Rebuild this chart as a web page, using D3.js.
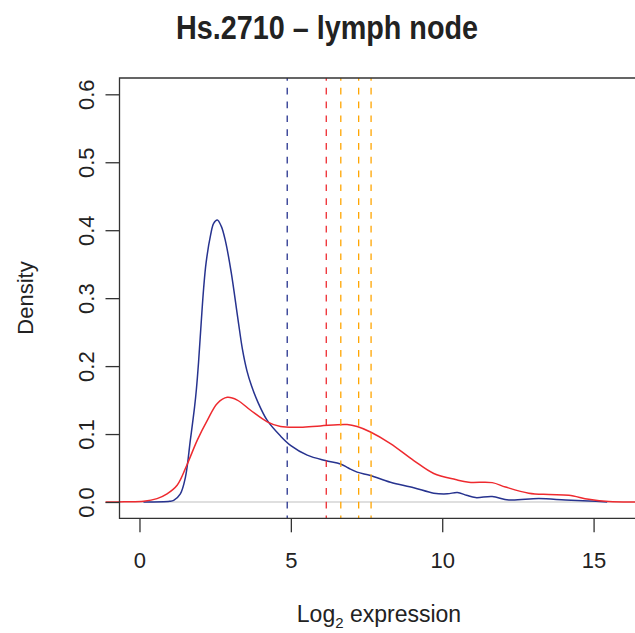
<!DOCTYPE html>
<meta charset="utf-8">
<style>
  body { margin: 0; background: #fff; }
  text { font-family: "Liberation Sans", Arial, Helvetica, sans-serif; fill: #222; }
</style>
<svg width="635" height="633"></svg>
<script src="https://d3js.org/d3.v7.min.js"></script>
<script>

// density estimates: [log2 expression, density]
var tissueDensity = [
  [0.13, 0], [1.0, 0.001], [1.13, 0.0025], [1.35, 0.012], [1.52, 0.037], [1.68, 0.091],
  [1.82, 0.14], [1.88, 0.166], [1.95, 0.205], [2.04, 0.265], [2.12, 0.315], [2.2, 0.352],
  [2.35, 0.393], [2.45, 0.41], [2.57, 0.415], [2.7, 0.406], [2.84, 0.384], [3.03, 0.338],
  [3.25, 0.27], [3.4, 0.225], [3.55, 0.193], [3.7, 0.171], [3.9, 0.148], [4.22, 0.12],
  [4.66, 0.097], [5.0, 0.083], [5.54, 0.069], [6.14, 0.061], [6.64, 0.056], [6.9, 0.05],
  [7.19, 0.044], [7.63, 0.039], [8.29, 0.029], [9.06, 0.021], [9.72, 0.013], [10.17, 0.012],
  [10.5, 0.014], [10.8, 0.01], [11.1, 0.0065], [11.65, 0.008], [12.2, 0.003], [13.19, 0.005],
  [14.07, 0.003], [14.84, 0.0015], [15.45, 0]
];

var allDensity = [
  [-1.12, 0], [-0.5, 0.0003], [0.14, 0.001], [0.58, 0.005], [0.91, 0.012], [1.25, 0.025],
  [1.58, 0.056], [1.91, 0.091], [2.24, 0.12], [2.57, 0.145], [2.9, 0.154], [3.23, 0.15],
  [3.67, 0.135], [4.22, 0.118], [4.66, 0.111], [5.32, 0.11], [5.98, 0.112], [6.86, 0.114],
  [7.19, 0.111], [7.63, 0.103], [8.29, 0.086], [9.06, 0.061], [9.72, 0.042], [10.44, 0.033],
  [10.88, 0.029], [11.65, 0.0285], [12.09, 0.022], [12.86, 0.013], [13.52, 0.011],
  [14.18, 0.0099], [14.84, 0.004], [15.5, 0.0006], [16.5, 0]
];

// vertical markers
var blueMarks = [4.88];
var redMarks = [6.17];
var orangeMarks = [6.65, 7.24, 7.65];

var xTicks = [0, 5, 10, 15];
var yTicks = [0, 0.1, 0.2, 0.3, 0.4, 0.5, 0.6];

var svg = d3.select("svg");

var pLeft = 119.5, pRight = 639, pTop = 78, pBottom = 518.3;

var x = d3.scaleLinear().domain([-0.66, 16.5]).range([pLeft, pRight]);
var y = d3.scaleLinear().domain([-0.024, 0.624]).range([pBottom, pTop]);

var navy = "#27338f", red = "#ee2a2f", orange = "#ffa500";

// baseline
svg.append("line")
    .attr("x1", pLeft).attr("x2", pRight)
    .attr("y1", y(0)).attr("y2", y(0))
    .attr("stroke", "#d4d4d4").attr("stroke-width", 1.6);

var line = d3.line()
    .x(function(d) { return x(d[0]); })
    .y(function(d) { return y(d[1]); })
    .curve(d3.curveCatmullRom.alpha(0.5));

svg.append("path").datum(tissueDensity)
    .attr("d", line).attr("fill", "none")
    .attr("stroke", navy).attr("stroke-width", 1.5);

svg.append("path").datum(allDensity)
    .attr("d", line).attr("fill", "none")
    .attr("stroke", red).attr("stroke-width", 1.5);

function vlines(vals, col) {
  svg.selectAll(null).data(vals).enter().append("line")
      .attr("x1", function(d) { return x(d); }).attr("x2", function(d) { return x(d); })
      .attr("y1", pTop).attr("y2", pBottom)
      .attr("stroke", col).attr("stroke-width", 1.3)
      .attr("stroke-dasharray", "6.7,7.1")
      .attr("stroke-dashoffset", 4);
}
vlines(blueMarks, navy);
vlines(redMarks, red);
vlines(orangeMarks, orange);

// box (right side falls outside the picture)
svg.append("path")
    .attr("d", "M" + pRight + "," + pTop + "H" + pLeft + "V" + pBottom + "H" + pRight)
    .attr("fill", "none").attr("stroke", "#333").attr("stroke-width", 1.3);

// axes
var xAxis = svg.append("g").attr("transform", "translate(0," + pBottom + ")")
    .call(d3.axisBottom(x).tickValues(xTicks).tickSize(14).tickFormat(d3.format("d")));
var yAxis = svg.append("g").attr("transform", "translate(" + pLeft + ",0)")
    .call(d3.axisLeft(y).tickValues(yTicks).tickSize(14).tickFormat(d3.format(".1f")));

[xAxis, yAxis].forEach(function(g) {
  g.select(".domain").remove();
  g.selectAll(".tick line").attr("stroke", "#333").attr("stroke-width", 1.3);
});

xAxis.selectAll(".tick text")
    .attr("y", 0).attr("dy", null)
    .attr("transform", "translate(0,50)")
    .style("font-size", "22px").attr("fill", "#222");

yAxis.selectAll(".tick text")
    .attr("x", 0).attr("dy", null)
    .attr("text-anchor", "middle")
    .attr("transform", "translate(-26,0) rotate(-90)")
    .style("font-size", "22px").attr("fill", "#222");

// title and labels
svg.append("text")
    .attr("x", 327).attr("y", 39)
    .attr("text-anchor", "middle")
    .attr("textLength", 302).attr("lengthAdjust", "spacingAndGlyphs")
    .style("font-size", "34px").style("font-weight", "bold")
    .text("Hs.2710 \u2013 lymph node");

var xl = svg.append("text")
    .attr("x", 379).attr("y", 622)
    .attr("text-anchor", "middle")
    .style("font-size", "23px");
xl.append("tspan").text("Log");
xl.append("tspan").attr("dy", 6).style("font-size", "15px").text("2");
xl.append("tspan").attr("dy", -6).text(" expression");

svg.append("text")
    .attr("transform", "translate(33,298) rotate(-90)")
    .attr("text-anchor", "middle")
    .style("font-size", "22px")
    .text("Density");

</script>
